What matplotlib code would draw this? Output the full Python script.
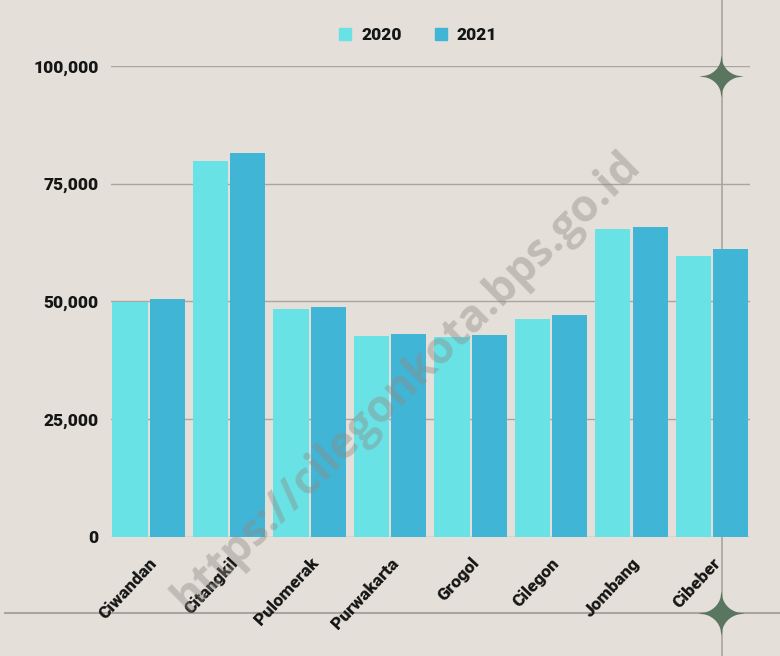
import matplotlib
matplotlib.use("Agg")
import matplotlib.pyplot as plt
from matplotlib.path import Path
from matplotlib.lines import Line2D
import matplotlib.transforms as mtransforms
import numpy as np

categories = ["Ciwandan", "Citangkil", "Pulomerak", "Purwakarta", "Grogol", "Cilegon", "Jombang", "Cibeber"]
series_2020 = [49900, 79800, 48300, 42600, 42500, 46300, 65400, 59600]
series_2021 = [50400, 81500, 48900, 43100, 42900, 47000, 65900, 61100]
series_names = ["2020", "2021"]
y_ticks = [0, 25000, 50000, 75000, 100000]
y_tick_labels = ["0", "25,000", "50,000", "75,000", "100,000"]
watermark = "https://cilegonkota.bps.go.id"

BG = "#e4e0d9"
C2020 = "#69e2e6"
C2021 = "#41b5d6"
GRID = "#aaa69f"
STAR = "#5a7560"

W, H = 780, 656
fig = plt.figure(figsize=(W / 100, H / 100), dpi=100, facecolor=BG)
ax = fig.add_axes([111 / W, (H - 536.7) / H, (750 - 111) / W, (536.7 - 66.0) / H])
ax.set_facecolor(BG)

font = {"family": ["Roboto", "DejaVu Sans"], "weight": "black"}

x = np.arange(len(categories))
bw = 0.435
off = 0.23
ax.bar(x - off, series_2020, bw, color=C2020, zorder=3, label=series_names[0])
ax.bar(x + off, series_2021, bw, color=C2021, zorder=3, label=series_names[1])

ax.set_xlim(-0.466, 7.472)
ax.set_ylim(0, 100000)
ax.set_yticks(y_ticks)
ax.set_yticklabels(y_tick_labels, fontdict=font, fontsize=12.5, color="#151515")
ax.set_xticks(x)
ax.set_xticklabels(categories, fontdict=font, fontsize=12.5, color="#151515",
                   rotation=47, ha="right", rotation_mode="anchor")
ax.tick_params(axis="both", length=0)
ax.tick_params(axis="y", pad=9)
ax.tick_params(axis="x", pad=13)
ax.yaxis.grid(True, color=GRID, linewidth=1.0, zorder=0)
ax.set_axisbelow(True)
for s in ax.spines.values():
    s.set_visible(False)

# decorative vertical line (figure height) behind bars
xv = (722 - 148.5) / 80.5
trans = mtransforms.blended_transform_factory(ax.transData, fig.transFigure)
ax.plot([xv, xv], [0, 1], transform=trans, color=GRID, lw=1.2, clip_on=False, zorder=1)
# decorative horizontal line across figure
yh = (H - 613) / H
fig.add_artist(Line2D([5 / W, 1], [yh, yh], color=GRID, lw=1.5, zorder=0))

# four-pointed stars
def star_path():
    pts = []
    n = 96
    for i in range(n):
        t = 2 * np.pi * i / n
        c, s = np.cos(t), np.sin(t)
        r = 1.0 / (abs(c) ** 0.55 + abs(s) ** 0.55) ** (1 / 0.55)
        pts.append((r * c, r * s * 0.95))
    pts.append(pts[0])
    return Path(pts, closed=True)

sp = star_path()
for (px, py, sz) in [(721, 76, 32), (721, 613, 34)]:
    fig.add_artist(Line2D([px / W], [(H - py) / H], marker=sp, markersize=sz,
                          color=STAR, markeredgewidth=0, linestyle="none", zorder=5))

# legend
handles = [Line2D([], [], marker="s", color=C2020, markersize=8, linestyle="none"),
           Line2D([], [], marker="s", color=C2021, markersize=8, linestyle="none")]
leg = fig.legend(handles, series_names, loc="center", bbox_to_anchor=(418 / W, (H - 35) / H),
                 ncol=2, frameon=False, handlelength=0.7, handletextpad=0.55, columnspacing=1.9,
                 prop={"family": ["Roboto", "DejaVu Sans"], "weight": "black", "size": 12.5})
for t in leg.get_texts():
    t.set_color("#151515")

# watermark
fig.text(407 / W, (H - 382) / H, watermark, rotation=44.5, ha="center", va="center",
         fontsize=32, fontweight="bold", family=["Open Sans", "DejaVu Sans"],
         color="#8f8a84", alpha=0.42, zorder=10)

fig.savefig("out.png", dpi=100, facecolor=BG)
